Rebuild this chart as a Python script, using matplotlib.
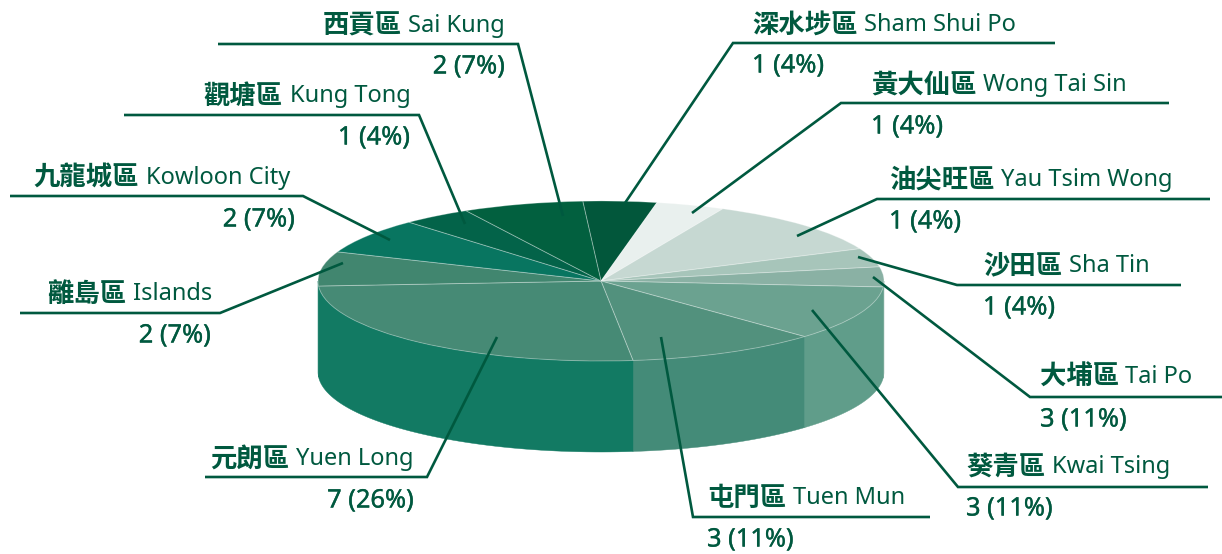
import numpy as np
import matplotlib
matplotlib.use("Agg")
import matplotlib.pyplot as plt
import matplotlib.patheffects as pe

# DATA
names_zh = ["深水埗區", "黃大仙區", "油尖旺區", "沙田區", "大埔區", "葵青區",
            "屯門區", "元朗區", "離島區", "九龍城區", "觀塘區", "西貢區"]
names_en = ["Sham Shui Po", "Wong Tai Sin", "Yau Tsim Wong", "Sha Tin", "Tai Po", "Kwai Tsing",
            "Tuen Mun", "Yuen Long", "Islands", "Kowloon City", "Kung Tong", "Sai Kung"]
counts = ["1 (4%)", "1 (4%)", "1 (4%)", "1 (4%)", "3 (11%)", "3 (11%)",
          "3 (11%)", "7 (26%)", "2 (7%)", "2 (7%)", "1 (4%)", "2 (7%)"]
# slice sizes, in degrees (they do not all agree with the printed counts)
slice_sizes = [15.1, 14.1, 40.7, 13.6, 14.5, 39.7, 39.5, 92.9, 25.0, 25.9, 14.2, 24.8]

top_colors = ["#02573B", "#E9F0EE", "#C6D8D2", "#A7C5BA", "#8AB1A4", "#6BA290",
              "#52917D", "#468A75", "#41866F", "#087560", "#036349", "#02603F"]
side_colors = ["#02573B", "#E9F0EE", "#C6D8D2", "#A7C5BA", "#8AB1A4", "#609D8A",
               "#448B78", "#127A63", "#127A63", "#087560", "#036349", "#02603F"]

# LAYOUT (pixels)
W, H = 1222, 554
dark = "#00593F"
cx, cy, rx, ry = 601, 281, 283, 80
depth = 91 / ry
start = -3.7

leaders = [
    [(625, 203), (733, 43), (1055, 43)],
    [(692, 213), (841, 103), (1169, 103)],
    [(797, 236), (877, 199), (1210, 199)],
    [(858, 257), (957, 285), (1181, 285)],
    [(873, 277), (1030, 397), (1222, 397)],
    [(812, 310), (958, 487), (1208, 487)],
    [(661, 337), (693, 517), (930, 517)],
    [(497, 337), (427, 477), (205, 477)],
    [(343, 263), (220, 313), (20, 313)],
    [(390, 240), (303, 196), (10, 196)],
    [(465, 224), (419, 115), (124, 115)],
    [(563, 216), (518, 44), (218, 44)],
]
zh_x = [752, 871, 889, 983, 1040, 966, 707, 210, 47, 33, 203, 323]
en_x = [864, 983, 1001, 1069, 1125, 1052, 793, 296, 133, 146, 290, 408]
name_y = [25, 85, 180, 266, 377, 467, 498, 459, 294, 178, 96, 26]
count_x = [752, 871, 889, 983, 1040, 966, 707, 414, 211, 295, 410, 505]
count_y = [66, 127, 222, 308, 420, 509, 540, 501, 336, 220, 138, 67]
count_ha = ["left"] * 7 + ["right"] * 5

fig = plt.figure(figsize=(W / 100, H / 100), dpi=100, facecolor="white")

# PIE, squashed into an ellipse by its own axes
ax = fig.add_axes([(cx - rx) / W, 1 - (cy + ry) / H, 2 * rx / W, 2 * ry / H])
ax.pie(slice_sizes, colors=top_colors, startangle=90 - start, counterclock=False, radius=1,
       wedgeprops={"edgecolor": (1, 1, 1, 0.3), "linewidth": 0.7, "zorder": 3})
ax.set_aspect("auto")
ax.set_xlim(-1, 1)
ax.set_ylim(-1, 1)

# side wall
edges = start + np.cumsum([0] + slice_sizes) * 360 / sum(slice_sizes)
for i in range(len(slice_sizes)):
    a0, a1 = max(edges[i], 90), min(edges[i + 1], 270)
    if a1 <= a0:
        continue
    t = np.radians(np.linspace(a0, a1, 60))
    x = np.sin(t)
    y = np.cos(t)
    ax.fill(np.r_[x, x[::-1]], np.r_[y, y[::-1] - depth], facecolor=side_colors[i],
            edgecolor=side_colors[i], lw=0.3, zorder=1, clip_on=False)

# OVERLAY for leaders and text
ov = fig.add_axes([0, 0, 1, 1], facecolor="none")
ov.set_xlim(0, W)
ov.set_ylim(H, 0)
ov.axis("off")

for i in range(len(names_en)):
    xs, ys = zip(*leaders[i])
    ov.plot(xs, ys, color=dark, lw=1.9, solid_joinstyle="miter", solid_capstyle="butt", clip_on=False)
    ov.text(zh_x[i], name_y[i], names_zh[i], family="Noto Sans CJK TC", weight="bold", fontsize=19,
            color=dark, va="center", ha="left")
    ov.text(en_x[i], name_y[i], names_en[i], family="Noto Sans", fontsize=17, color=dark,
            va="center", ha="left")
    t = ov.text(count_x[i], count_y[i], counts[i], family="Noto Sans", fontsize=18.3,
                color=dark, va="center", ha=count_ha[i])
    t.set_path_effects([pe.withStroke(linewidth=0.25, foreground=dark)])

fig.savefig("out.png", dpi=100, facecolor="white")
